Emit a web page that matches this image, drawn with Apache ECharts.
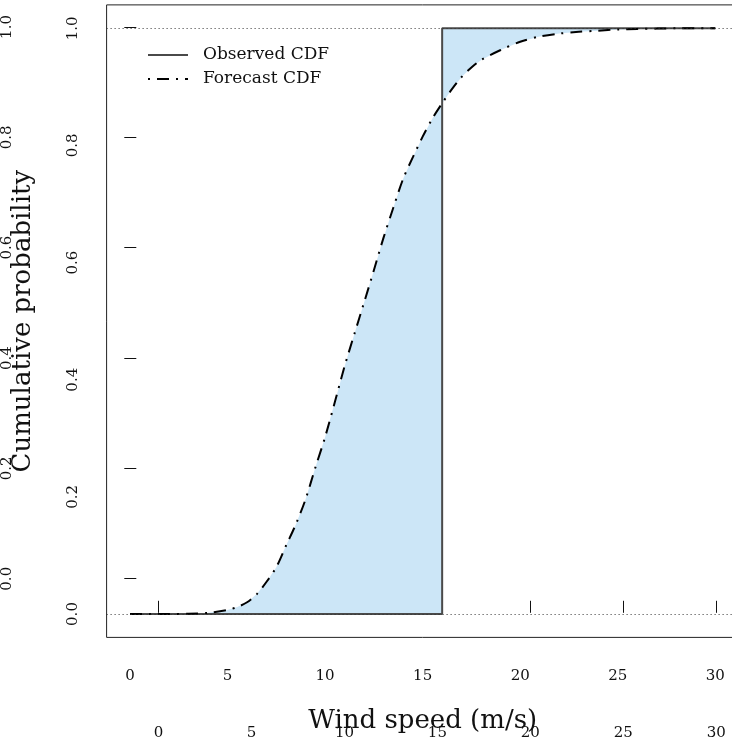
<!DOCTYPE html>
<html>
<head>
    <meta charset="utf-8">
    <title>CDF</title>
    <script src="https://cdn.jsdelivr.net/npm/echarts@6/dist/echarts.min.js"></script>
    <style>
        html, body { margin: 0; padding: 0; background: #fff; overflow: hidden; }
    </style>
</head>
<body>
<!-- the plot box runs past the right edge of the window, so the chart div is wider -->
<div id="main" style="width: 745px;height:741px;"></div>
<script type="text/javascript">
    // wind speed grid and forecast CDF
    var windSpeed = [0, 1, 2, 3, 4, 5, 5.5, 6, 6.5, 7, 7.5, 8, 8.5, 9, 9.5, 10, 10.5, 11, 11.5, 12,
        12.5, 13, 13.5, 14, 14.5, 15, 15.5, 16, 16.5, 17, 17.5, 18, 19, 20, 21, 22, 23, 24, 25, 26, 27, 28, 30];
    var forecastCdf = [0, 0, 0, 0.0005, 0.002, 0.007, 0.012, 0.02, 0.034, 0.055, 0.08, 0.117, 0.153, 0.196, 0.25, 0.302,
        0.362, 0.423, 0.478, 0.532, 0.587, 0.643, 0.694, 0.743, 0.78, 0.815, 0.846, 0.872, 0.896, 0.917, 0.933, 0.946,
        0.963, 0.977, 0.986, 0.991, 0.994, 0.996, 0.998, 0.999, 0.9995, 1, 1];
    var observedValue = 16;
    var refLines = [0, 1];
    var xTicks = [0, 5, 10, 15, 20, 25, 30];
    var yTicks = [0, 0.2, 0.4, 0.6, 0.8, 1.0];

    var fontFamily = 'DejaVu Serif';

    var forecastData = [], leftFill = [], rightFill = [];
    for (var i = 0; i < windSpeed.length; i++) {
        forecastData.push([windSpeed[i], forecastCdf[i]]);
        if (windSpeed[i] <= observedValue) leftFill.push([windSpeed[i], forecastCdf[i]]);
        if (windSpeed[i] >= observedValue) rightFill.push([windSpeed[i], forecastCdf[i]]);
    }
    var observedData = [[0, 0], [observedValue, 0], [observedValue, 1], [30, 1]];

    var myChart = echarts.init(document.getElementById('main'));

    var fillColor = '#cce6f7';
    var xLabelStyle = { margin: 31, fontSize: 15, color: '#111', fontFamily: fontFamily };
    var yLabelStyle = {
        rotate: 90, margin: 26, fontSize: 15, color: '#111', fontFamily: fontFamily,
        formatter: function (v) { return v.toFixed(1); }
    };

    // grid 0 = data range (0..30, 0..1), grid 1 = R style box with 4% padding,
    // grid 2 = only carries the tick marks, its axes sit "on zero" of helper axes at the box edges
    var option = {
        animation: false,
        textStyle: { fontFamily: fontFamily },
        grid: [
            { left: 130, top: 28.3, width: 585.3, height: 585.7 },
            { left: 106.6, top: 4.9, width: 632.1, height: 632.5, show: true, borderColor: '#222', borderWidth: 1, backgroundColor: 'transparent' },
            { left: 6.6, top: 4.9, width: 732.1, height: 732.5 }
        ],
        legend: {
            orient: 'vertical',
            left: 147, top: 46.5, padding: 0,
            itemWidth: 40, itemHeight: 14, itemGap: 7,
            itemStyle: { opacity: 0 },
            textStyle: { fontFamily: fontFamily, fontSize: 17, color: '#111', padding: [0, 0, 0, 10] },
            data: [
                { name: 'Observed CDF' },
                { name: 'Forecast CDF', lineStyle: { type: [2, 7, 12, 7] } }
            ]
        },
        xAxis: [{
            gridIndex: 0, type: 'value', min: 0, max: 30, interval: 5, offset: 23.4,
            name: 'Wind speed (m/s)', nameLocation: 'middle', nameGap: 71,
            nameTextStyle: { fontFamily: fontFamily, fontSize: 26, color: '#111' },
            axisLine: { show: false, onZero: false },
            splitLine: { show: false },
            axisTick: { show: false },
            axisLabel: xLabelStyle
        }, {
            gridIndex: 1, type: 'value', min: -1.2, max: 31.2, show: false
        }, {
            gridIndex: 2, type: 'value', min: -6.3271, max: 31.21,
            axisLine: { show: false, onZero: true, onZeroAxisIndex: 3 },
            splitLine: { show: false },
            axisTick: { show: true, inside: false, length: 12, customValues: xTicks, lineStyle: { color: '#111' } },
            axisLabel: Object.assign({ customValues: xTicks }, xLabelStyle)
        }, {
            gridIndex: 2, type: 'value', min: -100, max: 632.1, show: false
        }],
        yAxis: [{
            gridIndex: 0, type: 'value', min: 0, max: 1, interval: 0.2, offset: 23.4,
            name: 'Cumulative probability', nameLocation: 'middle', nameGap: 70,
            nameTextStyle: { fontFamily: fontFamily, fontSize: 26, color: '#111' },
            axisLine: { show: false, onZero: false },
            splitLine: { show: false },
            axisTick: { show: false },
            axisLabel: yLabelStyle
        }, {
            gridIndex: 1, type: 'value', min: -0.04, max: 1.04, show: false
        }, {
            gridIndex: 2, type: 'value', min: -0.21069, max: 1.04,
            axisLine: { show: false, onZero: true, onZeroAxisIndex: 3 },
            splitLine: { show: false },
            axisTick: { show: true, inside: false, length: 12, customValues: yTicks, lineStyle: { color: '#111' } },
            axisLabel: Object.assign({ customValues: yTicks }, yLabelStyle)
        }, {
            gridIndex: 2, type: 'value', min: -100, max: 632.5, show: false
        }],
        series: [
            {
                name: 'refLines', type: 'line', xAxisIndex: 1, yAxisIndex: 1, data: [], silent: true,
                markLine: {
                    silent: true, symbol: 'none', label: { show: false },
                    lineStyle: { color: '#333', width: 1, type: [1, 3] },
                    data: refLines.map(function (v) { return { yAxis: v }; })
                }
            },
            {
                name: 'fillLeft', type: 'line', data: leftFill, symbol: 'none', silent: true, clip: false,
                lineStyle: { width: 0 }, areaStyle: { color: fillColor, opacity: 1, origin: 'auto' }, z: 1
            },
            {
                name: 'fillRight', type: 'line', data: rightFill, symbol: 'none', silent: true, clip: false,
                lineStyle: { width: 0 }, areaStyle: { color: fillColor, opacity: 1, origin: 1 }, z: 1
            },
            {
                name: 'Observed CDF', type: 'line', data: observedData, symbol: 'none', z: 3, clip: false,
                lineStyle: { color: '#4a4a4a', width: 2 },
                itemStyle: { color: '#4a4a4a' }
            },
            {
                name: 'Forecast CDF', type: 'line', data: forecastData, symbol: 'none', smooth: 0.3, z: 4, clip: false,
                lineStyle: { color: '#000', width: 2, type: [12, 7, 2, 7] },
                itemStyle: { color: '#000' }
            }
        ]
    };

    myChart.setOption(option);
</script>
</body>
</html>
